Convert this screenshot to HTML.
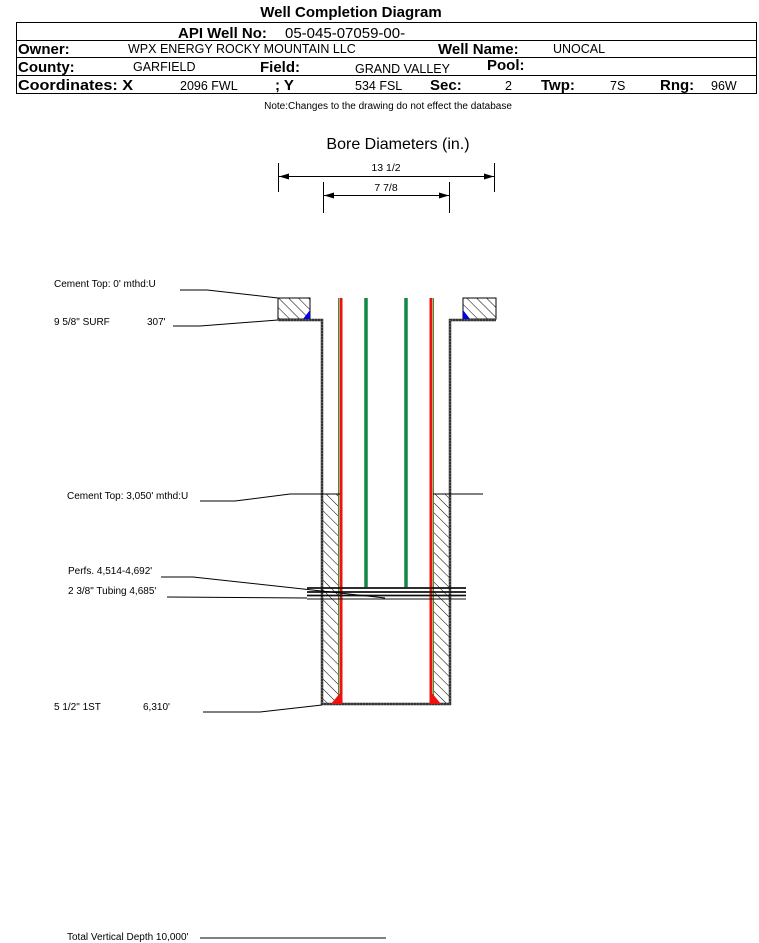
<!DOCTYPE html>
<html><head><meta charset="utf-8"><style>
html,body{margin:0;padding:0;background:#fff;}
svg{display:block;font-family:"Liberation Sans",Arial,sans-serif;}
</style></head><body>
<svg width="759" height="943" viewBox="0 0 759 943" xmlns="http://www.w3.org/2000/svg">
<defs>
<pattern id="h" patternUnits="userSpaceOnUse" width="7" height="7" patternTransform="rotate(-45)">
<rect width="7" height="7" fill="#fff"/><line x1="0" y1="0" x2="0" y2="7" stroke="#000" stroke-width="1"/>
</pattern>
<marker id="a" markerWidth="10" markerHeight="6" refX="10" refY="3" orient="auto" markerUnits="userSpaceOnUse"><path d="M0,0 L10,3 L0,6 z" fill="#000"/></marker>
</defs>
<text x="351" y="17" font-size="15" font-weight="bold" text-anchor="middle">Well Completion Diagram</text>
<rect x="16.5" y="22.5" width="740" height="71" fill="none" stroke="#000"/>
<line x1="16" y1="40.5" x2="757" y2="40.5" stroke="#000"/>
<line x1="16" y1="57.5" x2="757" y2="57.5" stroke="#000"/>
<line x1="16" y1="75.5" x2="757" y2="75.5" stroke="#000"/>
<g font-size="15" font-weight="bold">
<text x="178" y="38">API Well No:</text>
<text x="18" y="54">Owner:</text><text x="438" y="54">Well Name:</text>
<text x="18" y="72">County:</text><text x="260" y="72">Field:</text><text x="487" y="70">Pool:</text>
<text x="18" y="90" textLength="115" lengthAdjust="spacingAndGlyphs">Coordinates: X</text><text x="275" y="90">; Y</text><text x="430" y="90">Sec:</text><text x="541" y="90">Twp:</text><text x="660" y="90">Rng:</text>
</g>
<g font-size="13"><text x="285" y="38" font-size="15">05-045-07059-00-</text></g>
<g font-size="12.5">
<text x="128" y="53">WPX ENERGY ROCKY MOUNTAIN LLC</text><text x="553" y="53">UNOCAL</text>
<text x="133" y="71">GARFIELD</text><text x="355" y="73">GRAND VALLEY</text>
<text x="180" y="90">2096 FWL</text><text x="355" y="90">534 FSL</text><text x="505" y="90">2</text><text x="610" y="90">7S</text><text x="711" y="90">96W</text>
</g>
<text x="388" y="109" font-size="10" text-anchor="middle">Note:Changes to the drawing do not effect the database</text>
<text x="398" y="149" font-size="16" text-anchor="middle">Bore Diameters (in.)</text>
<text x="386" y="171" font-size="10.5" text-anchor="middle">13 1/2</text>
<text x="386" y="191" font-size="10.5" text-anchor="middle">7 7/8</text>
<g stroke="#000" stroke-width="1">
<line x1="278.5" y1="163" x2="278.5" y2="192"/><line x1="494.5" y1="163" x2="494.5" y2="192"/>
<line x1="288" y1="176.5" x2="494" y2="176.5" marker-end="url(#a)"/><line x1="485" y1="176.5" x2="279" y2="176.5" marker-end="url(#a)"/>
<line x1="323.5" y1="182" x2="323.5" y2="213"/><line x1="449.5" y1="182" x2="449.5" y2="213"/>
<line x1="330" y1="195.5" x2="449" y2="195.5" marker-end="url(#a)"/><line x1="440" y1="195.5" x2="324" y2="195.5" marker-end="url(#a)"/>
</g>
<rect x="278" y="298" width="32" height="21" fill="url(#h)" stroke="#000"/>
<rect x="463" y="298" width="33" height="21" fill="url(#h)" stroke="#000"/>
<path d="M303,319 L310,310 L310,319z" fill="#0000ee"/>
<path d="M470,319 L463,310 L463,319z" fill="#0000ee"/>
<rect x="322" y="494" width="17" height="210" fill="url(#h)"/>
<rect x="433" y="494" width="17" height="210" fill="url(#h)"/>
<path d="M278,320 L322,320 L322,704 L450,704 L450,320 L496,320" fill="none" stroke="#333" stroke-width="2.5"/>
<path d="M278,320 L322,320 L322,704 L450,704 L450,320 L496,320" fill="none" stroke="#999" stroke-width="0.8" stroke-dasharray="1,2"/>
<line x1="338.5" y1="298" x2="338.5" y2="704" stroke="#2a9a2a" stroke-width="1"/>
<line x1="341" y1="298" x2="341" y2="704" stroke="#ee1111" stroke-width="3"/>
<line x1="433.5" y1="298" x2="433.5" y2="704" stroke="#2a9a2a" stroke-width="1"/>
<line x1="431" y1="298" x2="431" y2="704" stroke="#ee1111" stroke-width="3"/>
<path d="M331,704 L340,693 L340,704z" fill="#ee1111"/>
<path d="M441,704 L432,693 L432,704z" fill="#ee1111"/>
<line x1="366" y1="298" x2="366" y2="587" stroke="#118844" stroke-width="3.5"/>
<line x1="406" y1="298" x2="406" y2="587" stroke="#118844" stroke-width="3.5"/>
<g stroke="#111" stroke-width="1.8"><line x1="307" y1="588" x2="466" y2="588"/><line x1="307" y1="592" x2="466" y2="592"/><line x1="307" y1="595.5" x2="466" y2="595.5"/></g>
<line x1="307" y1="599" x2="466" y2="599" stroke="#111" stroke-width="1"/>
<g stroke="#000" stroke-width="1" fill="none">
<path d="M180,290 L207,290 L278,298"/>
<path d="M173,326 L200,326 L278,320"/>
<path d="M200,501 L235,501 L290,494 L340,494"/>
<line x1="433" y1="494" x2="483" y2="494"/>
<path d="M161,577 L193,577 L385,598"/>
<path d="M167,597 L307,598"/>
<path d="M203,712 L260,712 L322,705"/>
<line x1="200" y1="938" x2="386" y2="938"/>
</g>
<g font-size="10">
<text x="54" y="287">Cement Top: 0' mthd:U</text>
<text x="54" y="325">9 5/8" SURF</text><text x="147" y="325">307'</text>
<text x="67" y="499">Cement Top: 3,050' mthd:U</text>
<text x="68" y="574">Perfs. 4,514-4,692'</text>
<text x="68" y="594">2 3/8" Tubing 4,685'</text>
<text x="54" y="710">5 1/2" 1ST</text><text x="143" y="710">6,310'</text>
<text x="67" y="940">Total Vertical Depth 10,000'</text>
</g>
</svg>
</body></html>
